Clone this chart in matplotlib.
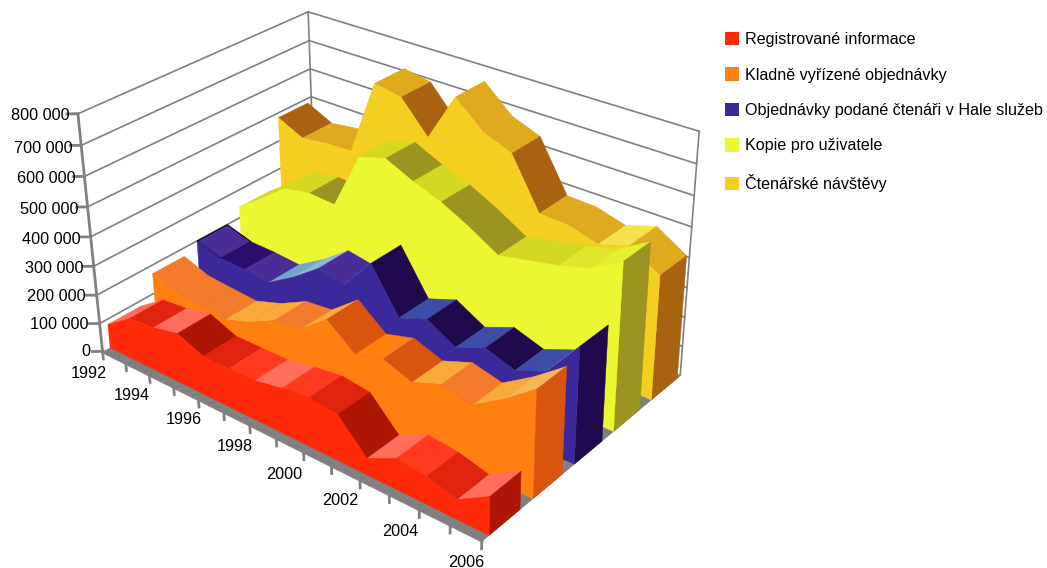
import numpy as np
import matplotlib
matplotlib.use('Agg')
import matplotlib.pyplot as plt
from matplotlib.patches import Patch
from mpl_toolkits.mplot3d import proj3d
from mpl_toolkits.mplot3d.art3d import Poly3DCollection

plt.rcParams['font.family'] = ['Liberation Sans', 'DejaVu Sans']

# ---- data ----
years = list(range(1992, 2007))
series_names = ['Registrované informace', 'Kladně vyřízené objednávky',
                'Objednávky podané čtenáři v Hale služeb', 'Kopie pro uživatele',
                'Čtenářské návštěvy']
registrovane = [84, 145, 153, 173, 136, 136, 137, 154, 167, 155, 56, 103, 92, 66, 125]
kladne = [173, 140, 132, 125, 155, 201, 211, 284, 208, 234, 200, 236, 212, 275, 350]
objednavky = [202, 175, 172, 164, 220, 287, 270, 378, 233, 268, 215, 254, 222, 261, 382]
kopie = [241, 307, 375, 392, 386, 580, 607, 564, 530, 482, 426, 446, 467, 494, 553]
navstevy = [486, 443, 455, 459, 720, 703, 599, 761, 677, 640, 476, 472, 445, 477, 417]
all_series = [registrovane, kladne, objednavky, kopie, navstevy]
value_ticks = list(range(0, 800001, 100000))
value_labels = ['0', '100 000', '200 000', '300 000', '400 000', '500 000', '600 000', '700 000', '800 000']

# ---- styles ----
front_colors = ['#FF2A0A', '#FF8010', '#3B289B', '#EBF731', '#F5CE22']
cap_colors = ['#AE1505', '#D8540F', '#1F0A4D', '#9C9420', '#A96310']
top_colors = [
    ['#FF6E5C', '#E0230F', '#FF6E5C', '#AE1505', '#E0230F', '#FF3A1F', '#FF6E5C',
     '#FF3A1F', '#E0230F', '#AE1505', '#FF6E5C', '#FF3A1F', '#E0230F', '#FF6E5C'],
    ['#F47B2C', '#F47B2C', '#F47B2C', '#F9A83A', '#F9A83A', '#F47B2C', '#F9A83A',
     '#D8540F', '#FF8010', '#D8540F', '#F9A83A', '#F47B2C', '#F9A83A', '#FBB455'],
    ['#4A2D96', '#2B0E70', '#4A2D96', '#74A5CE', '#8DB5D5', '#4A2D96', '#74A5CE',
     '#1F0A4D', '#3D4CA6', '#1F0A4D', '#3D4CA6', '#1F0A4D', '#3D4CA6', '#8DB5D5'],
    ['#D4D822', '#D4D822', '#D4D822', '#9C9420', '#D4D822', '#D4D822', '#9C9420',
     '#D4D822', '#9C9420', '#9C9420', '#D4D822', '#D4D822', '#DFE62B', '#E6EE30'],
    ['#A96310', '#E0AA1F', '#E0AA1F', '#E0AA1F', '#E0AA1F', '#A96310', '#E0AA1F',
     '#E0AA1F', '#E0AA1F', '#A96310', '#E0AA1F', '#E0AA1F', '#F4E24C', '#E0AA1F'],
]
depth_front = [0.15, 1.15, 2.15, 3.15, 4.17]
depth_back = [0.85, 1.85, 2.85, 3.85, 4.90]
GREY = '#808080'
FS = 11.7
W, H = 1047, 568

fig = plt.figure(figsize=(W / 100, H / 100), dpi=100, facecolor='white')
ax = fig.add_axes([0, (H - W) / 2 / H, 1, W / H], projection='3d', computed_zorder=False)
n = len(years) - 1
depth = 5
ax.set_xlim(0, n, view_margin=0)
ax.set_ylim(0, depth, view_margin=0)
ax.set_zlim(0, 800000, view_margin=0)
ax.view_init(28.48678, -50.002, 0.85927)
ax.set_proj_type('persp', focal_length=0.50316)
ax.set_box_aspect((1.87629, 1.27444, 1))
ax.set_axis_off()
ax.patch.set_visible(False)
# 2D window of the projection so that the box lands where the reference has it
cx0, cx1, cy0, cy1 = 3448.127, 385.389, -3556.447, 247.072
ax.viewLim.intervalx = ((0 - cx1) / cx0, (W - cx1) / cx0)
ax.viewLim.intervaly = (((H + W) / 2 - cy1) / cy0, ((H - W) / 2 - cy1) / cy0)

def to_pixels(x, y, zv):
    u, v, _ = proj3d.proj_transform(x, y, zv, ax.get_proj())
    return cx0 * u + cx1, cy0 * v + cy1

def pixel_text(px, py, s, **kw):
    fig.text(px / W, 1 - py / H, s, fontsize=FS, color='black', va='center', **kw)

z = [1]
def nz():
    z[0] += 1
    return z[0]

# floor
ax.add_collection3d(Poly3DCollection([[(0, 0, 0), (n, 0, 0), (n, depth, 0), (0, depth, 0)]],
                                     facecolor=GREY, edgecolor=GREY, linewidths=0.4, zorder=nz()))
# gridlines on the two walls
for v in value_ticks[1:]:
    ax.plot([0, 0, n], [0, depth, depth], [v, v, v], color=GREY, lw=1.2, zorder=nz())
ax.plot([0, 0], [depth, depth], [0, 800000], color=GREY, lw=1.2, zorder=nz())
ax.plot([n, n], [depth, depth], [0, 800000], color=GREY, lw=1.2, zorder=nz())

# series, back to front
for i in range(len(all_series) - 1, -1, -1):
    vals = np.array(all_series[i], float) * 1000
    y0, y1 = depth_front[i], depth_back[i]
    for k in range(n):
        quad = [(k, y0, vals[k]), (k + 1, y0, vals[k + 1]), (k + 1, y1, vals[k + 1]), (k, y1, vals[k])]
        edge = 'black' if (i == 2 and k == 0) else top_colors[i][k]
        ax.add_collection3d(Poly3DCollection([quad], facecolor=top_colors[i][k], edgecolor=edge,
                                             linewidths=0.7 if edge == 'black' else 0.3, zorder=nz()))
    ax.add_collection3d(Poly3DCollection(
        [[(n, y0, 0), (n, y1, 0), (n, y1, vals[-1]), (n, y0, vals[-1])]],
        facecolor=cap_colors[i], edgecolor=cap_colors[i], linewidths=0.3, zorder=nz()))
    front = [(k, y0, vals[k]) for k in range(n + 1)] + [(n, y0, 0), (0, y0, 0)]
    ax.add_collection3d(Poly3DCollection([front], facecolor=front_colors[i],
                                         edgecolor=front_colors[i], linewidths=0.3, zorder=nz()))

# axes lines, ticks and their labels
ax.plot([0, 0], [0, 0], [0, 800000], color=GREY, lw=2.0, zorder=nz())
ax.plot([0, n], [0, 0], [0, 0], color=GREY, lw=2.4, zorder=nz())
value_label_dy = [0, 1, 1, 2, 3, 3, 2, 3, 2]
for v, lab, dy in zip(value_ticks, value_labels, value_label_dy):
    ax.plot([0, -0.237], [0, -0.10], [v, v], color=GREY, lw=2, zorder=nz())
    px, py = to_pixels(0, 0, v)
    pixel_text(px - 12 + 4 * v / 800000, py + dy, lab, ha='right')
for k in range(n + 1):
    ax.plot([k, k], [0, 0], [0, -27000], color=GREY, lw=2, zorder=nz())
x_label_offsets = [(-14, 22), (-18, 21), (-15, 20), (-15, 22), (-19, 23), (-20, 21), (-19, 22), (-15, 22)]
for j, k in enumerate(range(0, n + 1, 2)):
    dx, dy = x_label_offsets[j]
    px, py = to_pixels(k, 0, 0)
    pixel_text(px + dx, py + dy, str(years[k]), ha='center')

handles = [Patch(facecolor=c, edgecolor='none') for c in front_colors]
fig.legend(handles, series_names, loc='upper left', bbox_to_anchor=(725 / W, 1 - 32 / H),
           frameon=False, fontsize=11.6, borderpad=0, borderaxespad=0, handlelength=0.88,
           handleheight=0.88, handletextpad=0.38, labelspacing=1.26, labelcolor='black')
fig.savefig('out.png', dpi=100, facecolor='white')
